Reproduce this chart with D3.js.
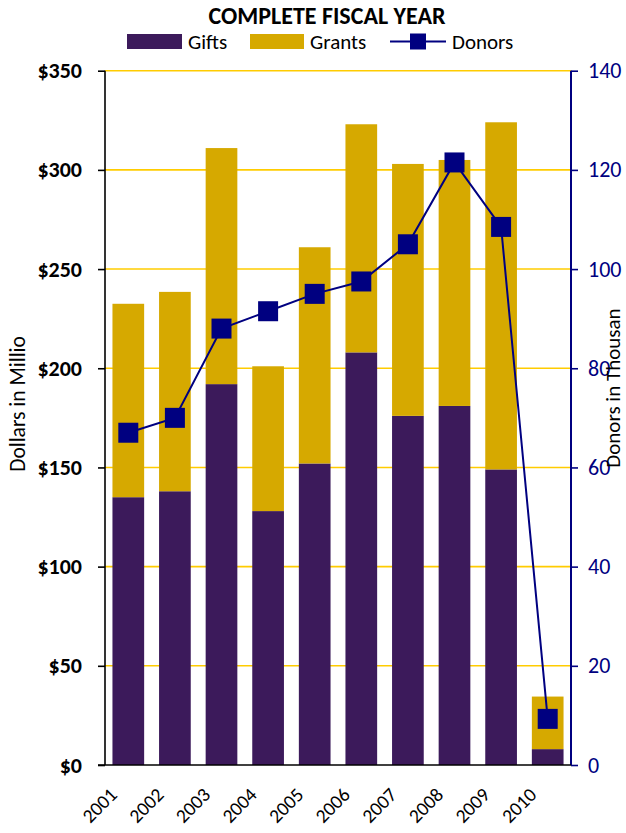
<!DOCTYPE html>
<html>
<head>
<meta charset="utf-8">
<script src="https://cdn.jsdelivr.net/npm/d3@7"></script>
<style>
  html, body { margin: 0; padding: 0; background: #ffffff; }
  svg { display: block; }
  text { font-family: Carlito, Calibri, Lato, sans-serif; }
</style>
</head>
<body>
<div id="chart"></div>
<script>
// ---- data ----
const years  = ["2001","2002","2003","2004","2005","2006","2007","2008","2009","2010"];
const gifts  = [135, 138, 192, 128, 152, 208, 176, 181, 149, 8];
const grants = [97.5, 100.5, 119, 73, 109, 115, 127, 124, 175, 26.5];
const donors = [67, 70, 88, 91.5, 95, 97.5, 105, 121.5, 108.5, 9.3];
const leftTicks  = [0, 50, 100, 150, 200, 250, 300, 350];
const rightTicks = [0, 20, 40, 60, 80, 100, 120, 140];
const seriesNames = ["Gifts", "Grants"];
const titleText = "COMPLETE FISCAL YEAR";
const leftTitle = "Dollars in Millio";
const rightTitle = "Donors in Thousan";

// ---- layout ----
const W = 626, H = 833;
const plot = { left: 105, right: 571, top: 70.7, bottom: 765 };
const colors = { Gifts: "#3c1a5b", Grants: "#d6a900" };
const gridColor = "#ffcc00";
const navy = "#000080";
const FONT = "Carlito, Calibri, Lato, sans-serif";

const svg = d3.select("#chart").append("svg").attr("width", W).attr("height", H);

const x = d3.scaleBand().domain(years).range([plot.left, plot.right])
  .paddingInner(0.32).paddingOuter(0.16);
const y = d3.scaleLinear().domain([0, 350]).range([plot.bottom, plot.top]);
const y2 = d3.scaleLinear().domain([0, 140]).range([plot.bottom, plot.top]);

// gridlines
svg.append("g").selectAll("line").data(leftTicks.filter(d => d > 0)).join("line")
  .attr("x1", plot.left).attr("x2", plot.right)
  .attr("y1", d => y(d)).attr("y2", d => y(d))
  .attr("stroke", gridColor).attr("stroke-width", 1.6);

// stacked bars
const table = years.map((yr, i) => ({ year: yr, Gifts: gifts[i], Grants: grants[i] }));
const stacked = d3.stack().keys(seriesNames)(table);
svg.append("g").selectAll("g").data(stacked).join("g")
  .attr("fill", s => colors[s.key])
  .selectAll("rect").data(s => s).join("rect")
  .attr("x", d => x(d.data.year))
  .attr("width", x.bandwidth())
  .attr("y", d => y(d[1]))
  .attr("height", d => y(d[0]) - y(d[1]));

// left axis
const gL = svg.append("g").attr("transform", `translate(${plot.left},0)`)
  .call(d3.axisLeft(y).tickValues(leftTicks).tickFormat(d => "$" + d).tickSize(7).tickPadding(16));
gL.select(".domain").attr("stroke", "#000").attr("stroke-width", 1.6).attr("d", `M-0,${plot.bottom}V${plot.top}`);
gL.selectAll(".tick line").attr("stroke", "#000").attr("stroke-width", 1.6);
gL.selectAll(".tick text").attr("fill", "#000").attr("font-size", 22).attr("font-weight", "bold")
  .style("font-family", FONT);

// right axis
const gR = svg.append("g").attr("transform", `translate(${plot.right},0)`)
  .call(d3.axisRight(y2).tickValues(rightTicks).tickSize(7).tickPadding(10));
gR.select(".domain").attr("stroke", navy).attr("stroke-width", 2).attr("d", `M0,${plot.bottom}V${plot.top}`);
gR.selectAll(".tick line").attr("stroke", navy).attr("stroke-width", 1.6);
gR.selectAll(".tick text").attr("fill", navy).attr("font-size", 22)
  .style("font-family", FONT);

// bottom axis (baseline + rotated labels)
const gB = svg.append("g").attr("transform", `translate(0,${plot.bottom})`)
  .call(d3.axisBottom(x).tickSize(0).tickPadding(0));
gB.select(".domain").attr("stroke", "#000").attr("stroke-width", 1.6)
  .attr("d", `M${plot.left - 7},0H${plot.right}`);
gB.selectAll(".tick text")
  .attr("fill", "#000").attr("font-size", 19.5)
  .style("font-family", FONT)
  .attr("text-anchor", "end")
  .attr("dy", null).attr("y", 0)
  .attr("transform", "translate(-10,31) rotate(-45)");

// donors line
const line = d3.line().x((d, i) => x(years[i]) + x.bandwidth() / 2).y(d => y2(d));
svg.append("path").datum(donors).attr("d", line)
  .attr("fill", "none").attr("stroke", navy).attr("stroke-width", 2);
const ms = 20;
svg.append("g").selectAll("rect").data(donors).join("rect")
  .attr("x", (d, i) => x(years[i]) + x.bandwidth() / 2 - ms / 2)
  .attr("y", d => y2(d) - ms / 2)
  .attr("width", ms).attr("height", ms).attr("fill", navy);

// title
svg.append("text").attr("x", 327).attr("y", 24).attr("text-anchor", "middle")
  .attr("font-size", 24).attr("font-weight", "bold").attr("fill", "#000").text(titleText);

// legend
const lg = svg.append("g");
lg.append("rect").attr("x", 127).attr("y", 34).attr("width", 55).attr("height", 15).attr("fill", colors.Gifts);
lg.append("text").attr("x", 188).attr("y", 49).attr("font-size", 21).text(seriesNames[0]);
lg.append("rect").attr("x", 250).attr("y", 34).attr("width", 54).attr("height", 15).attr("fill", colors.Grants);
lg.append("text").attr("x", 310).attr("y", 49).attr("font-size", 21).text(seriesNames[1]);
lg.append("line").attr("x1", 390).attr("x2", 446).attr("y1", 41.5).attr("y2", 41.5)
  .attr("stroke", navy).attr("stroke-width", 2);
lg.append("rect").attr("x", 410).attr("y", 33.5).attr("width", 16).attr("height", 16).attr("fill", navy);
lg.append("text").attr("x", 452).attr("y", 49).attr("font-size", 21).text("Donors");

// axis titles
svg.append("text").attr("transform", "translate(25,404) rotate(-90)")
  .attr("text-anchor", "middle").attr("font-size", 21.5).attr("fill", "#000").text(leftTitle);
svg.append("text").attr("transform", "translate(620,388) rotate(-90)")
  .attr("text-anchor", "middle").attr("font-size", 21).attr("fill", "#000").text(rightTitle);
</script>
</body>
</html>
